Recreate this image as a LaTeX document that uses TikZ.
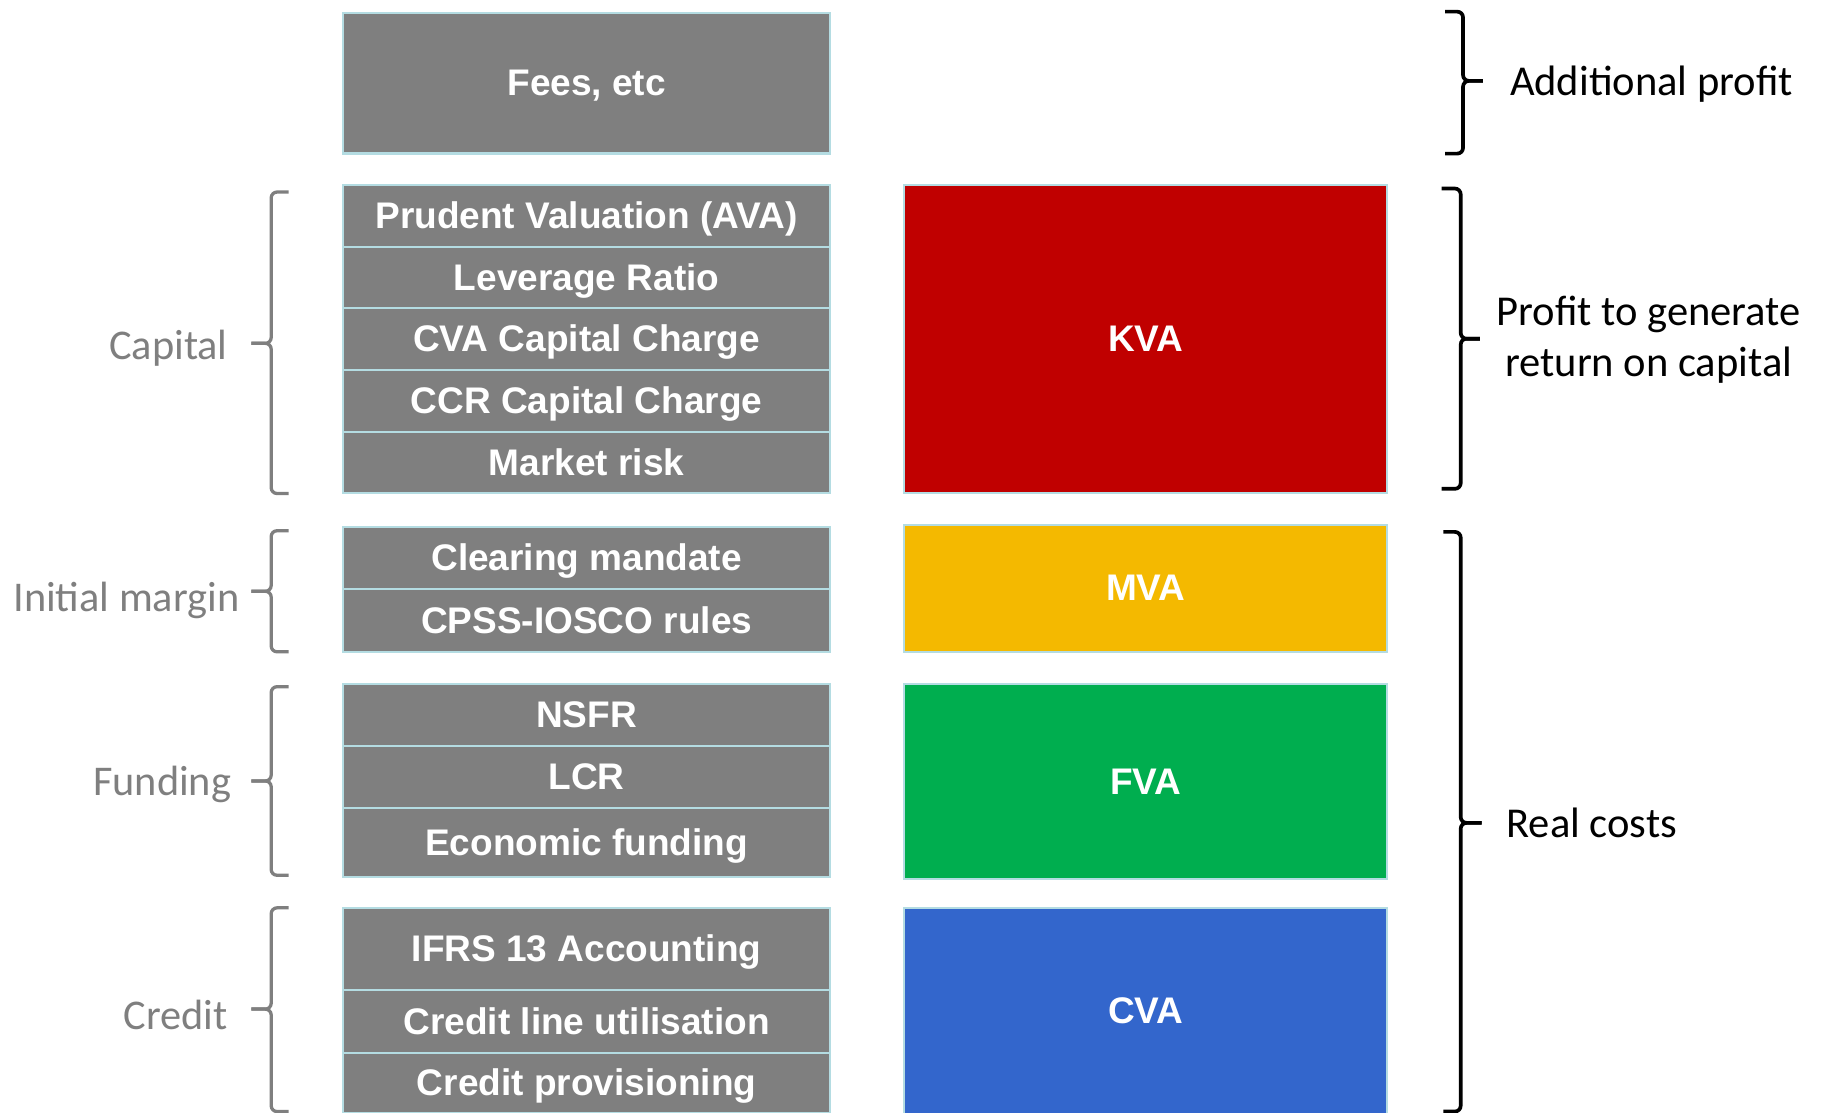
\documentclass[tikz,border=0pt]{standalone}
\usepackage{fontspec}
\usepackage{xcolor}
\usepackage{tikz}
\usetikzlibrary{positioning}
\newfontfamily\cellfont{Liberation Sans}
\newfontfamily\notefont{Carlito}
\definecolor{cellgrey}{HTML}{7F7F7F}
\definecolor{cellrim}{HTML}{B4DCE2}
\definecolor{notegrey}{HTML}{7F7F7F}
\definecolor{kvared}{HTML}{C00000}
\definecolor{mvagold}{HTML}{F4B900}
\definecolor{fvagreen}{HTML}{00AE4F}
\definecolor{cvablue}{HTML}{3366CC}

\begin{document}
\begin{tikzpicture}[
  cell/.style={draw=cellrim, line width=1pt, fill=cellgrey, text=white,
    font=\cellfont\bfseries\fontsize{18.1}{21}\selectfont,
    text height=16.3pt, text depth=3.8pt,
    minimum width=8.36cm, inner sep=0pt, anchor=north},
  costcell/.style={cell, minimum width=8.30cm},
  greybrace/.style={draw=notegrey, line width=1.6pt, rounded corners=0.1cm},
  blackbrace/.style={draw=black, line width=1.8pt, rounded corners=0.1cm},
  sidenote/.style={text=notegrey, font=\notefont\fontsize{20.7}{24.6}\selectfont, inner sep=0pt},
  costnote/.style={text=black, font=\notefont\fontsize{20.8}{24.6}\selectfont, inner sep=0pt, align=center}
]
  \useasboundingbox (0,0) rectangle (31.36,-19.12);

  % Drivers (LEFT COLUMN)
  \node[cell, minimum height=2.42cm] (fees) at (10.08,-0.20) {Fees, etc};

  \node[cell, minimum height=1.06cm] (prudent) at (10.08,-3.16) {Prudent Valuation (AVA)};
  \node[cell, minimum height=1.06cm] (leverage) at (10.08,-4.22) {Leverage Ratio};
  \node[cell, minimum height=1.06cm] (cvacharge) at (10.08,-5.28) {CVA Capital Charge};
  \node[cell, minimum height=1.06cm] (ccrcharge) at (10.08,-6.34) {CCR Capital Charge};
  \node[cell, minimum height=1.06cm] (marketrisk) at (10.08,-7.40) {Market risk};

  \node[cell, minimum height=1.06cm] (clearing) at (10.08,-9.04) {Clearing mandate};
  \node[cell, minimum height=1.08cm] (cpss) at (10.08,-10.10) {CPSS-IOSCO rules};

  \node[cell, minimum height=1.06cm] (nsfr) at (10.08,-11.74) {NSFR};
  \node[cell, minimum height=1.06cm] (lcr) at (10.08,-12.80) {LCR};
  \node[cell, minimum height=1.20cm] (econfunding) at (10.08,-13.86) {Economic funding};

  \node[cell, minimum height=1.42cm] (ifrs) at (10.08,-15.58) {IFRS 13 Accounting};
  \node[cell, minimum height=1.08cm] (creditline) at (10.08,-17.00) {Credit line utilisation};
  \node[cell, minimum height=1.02cm] (provisioning) at (10.08,-18.08) {Credit provisioning};

  % Valuation adjustments (RIGHT COLUMN)
  \node[costcell, fill=kvared, minimum height=5.30cm] (kva) at (19.69,-3.16) {KVA};
  \node[costcell, fill=mvagold, minimum height=2.18cm] (mva) at (19.69,-9.00) {MVA};
  \node[costcell, fill=fvagreen, minimum height=3.34cm] (fva) at (19.69,-11.74) {FVA};
  \node[costcell, fill=cvablue, minimum height=3.54cm] (cva) at (19.69,-15.58) {CVA};

  % Grey braces grouping the drivers
  \draw[greybrace] (4.96,-3.30) -- (4.66,-3.30) |- (4.32,-5.90) coordinate (captip);
  \draw[greybrace] (captip) -| (4.66,-8.48) -- (4.96,-8.48);
  \node[sidenote, left=0.40cm of captip, yshift=-0.08cm] (caplabel) {Capital};

  \draw[greybrace] (4.96,-9.12) -- (4.66,-9.12) |- (4.32,-10.16) coordinate (imtip);
  \draw[greybrace] (imtip) -| (4.66,-11.20) -- (4.96,-11.20);
  \node[sidenote, left=0.20cm of imtip, yshift=-0.16cm] (imlabel) {Initial margin};

  \draw[greybrace] (4.96,-11.80) -- (4.66,-11.80) |- (4.32,-13.42) coordinate (fundtip);
  \draw[greybrace] (fundtip) -| (4.66,-15.04) -- (4.96,-15.04);
  \node[sidenote, left=0.34cm of fundtip, yshift=-0.06cm] (fundlabel) {Funding};

  \draw[greybrace] (4.96,-15.60) -- (4.66,-15.60) |- (4.32,-17.34) coordinate (credtip);
  \draw[greybrace] (credtip) -| (4.66,-19.10) -- (4.96,-19.10);
  \node[sidenote, left=0.40cm of credtip, yshift=-0.10cm] (credlabel) {Credit};

  % Black braces on the profit side
  \draw[blackbrace] (24.83,-0.20) -- (25.14,-0.20) |- (25.48,-1.39) coordinate (addtip);
  \draw[blackbrace] (addtip) -| (25.14,-2.64) -- (24.83,-2.64);
  \node[costnote, right=0.46cm of addtip, yshift=-0.05cm] (addlabel) {Additional profit};

  \draw[blackbrace] (24.77,-3.24) -- (25.10,-3.24) |- (25.43,-5.82) coordinate (rettip);
  \draw[blackbrace] (rettip) -| (25.10,-8.40) -- (24.77,-8.40);
  \node[costnote, right=0.28cm of rettip, yshift=-0.02cm] (retlabel) {Profit to generate\\return on capital};

  \draw[blackbrace] (24.80,-9.14) -- (25.10,-9.14) |- (25.46,-14.14) coordinate (realtip);
  \draw[blackbrace] (realtip) -| (25.10,-19.10) -- (24.80,-19.10);
  \node[costnote, right=0.42cm of realtip] (reallabel) {Real costs};
\end{tikzpicture}
\end{document}
